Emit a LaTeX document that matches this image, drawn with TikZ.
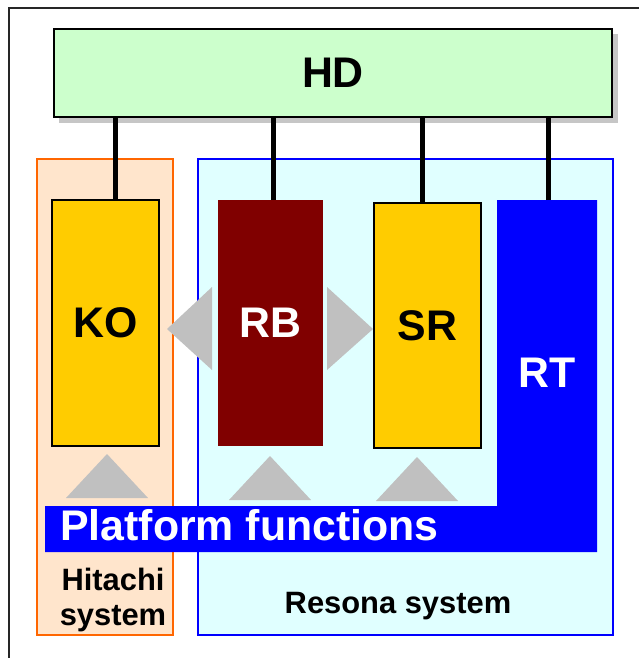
\documentclass[tikz,border=0pt]{standalone}
\usepackage{fontspec}
\setmainfont{Liberation Sans}
\usepackage{tikz}
\usetikzlibrary{calc}

\definecolor{hdgreen}{HTML}{CCFFCC}
\definecolor{hitpeach}{HTML}{FFE5CC}
\definecolor{hitorange}{HTML}{FF6600}
\definecolor{rescyan}{HTML}{E0FFFF}
\definecolor{resblue}{HTML}{0000FF}
\definecolor{boxyellow}{HTML}{FFCC00}
\definecolor{rbmaroon}{HTML}{800000}
\definecolor{trigray}{HTML}{C0C0C0}

\begin{document}
\begin{tikzpicture}[x=1bp, y=-1bp,
    every node/.append style={inner sep=0pt, font=\bfseries\fontsize{43}{48}\selectfont},
    sysbox/.style={line width=1.8bp},
    compbox/.style={draw=black, line width=1.2bp, fill=boxyellow},
    wire/.style={line width=5bp},
    tri/.style={fill=trigray},
    small/.style={font=\bfseries\fontsize{31}{34}\selectfont}]
    \useasboundingbox (0,0) rectangle (639,658);
    \draw[line width=1.5bp, color=black!85] (9,658) -- (9,8) -- (639,8); % outer frame

    % the two systems
    \node[sysbox, draw=hitorange, fill=hitpeach, minimum width=136bp, minimum height=476bp] (hit) at (105,397) {};
    \node[sysbox, draw=resblue, fill=rescyan, minimum width=415bp, minimum height=476bp] (res) at (405.5,397) {};

    % HD with its shadow
    \fill[gray!45] (59,34) rectangle (618,123);
    \node[draw=black, line width=1.2bp, fill=hdgreen, minimum width=558bp, minimum height=88bp] (HD) at (333,73) {HD};

    % components
    \node[compbox, minimum width=107bp, minimum height=246bp] (KO) at (105.5,323) {KO};
    \node[fill=rbmaroon, text=white, minimum width=105bp, minimum height=246bp] (RB) at (270.5,323) {RB};
    \node[compbox, minimum width=107bp, minimum height=245bp] (SR) at (427.5,325.5) {SR};

    % RT and the platform bar
    \fill[resblue] (497,200) -- (597,200) -- (597,552) -- (45,552) -- (45,506) -- (497,506) -- cycle;
    \node[text=white] (RT) at (547.5,373) {RT};
    \coordinate (RTtop) at (548,200);
    \node[text=white, anchor=base west] (pf) at (60,540) {Platform functions};

    % wires to HD
    \foreach \n/\s in {KO/9.5, RB/2.5, SR/-5.5} % edit here for the wire offsets
    \draw[wire] ([xshift=\s bp]\n.north) -- ([xshift=\s bp]\n.north |- HD.south);
    \draw[wire] (RTtop) -- (RTtop |- HD.south);

    % gray triangles
    \foreach \x/\y in {107/454, 270/456, 417/457}
    \fill[tri] (\x,\y) -- ++(41,44) -- ++(-82,0) -- cycle;
    \fill[tri] (167,329) -- (212,287) -- (212,370) -- cycle;
    \fill[tri] (373,329) -- (327,287) -- (327,370) -- cycle;

    % labels
    \node[small, anchor=base] (hitA) at (113,590) {Hitachi};
    \node[small, anchor=base] (hitB) at (113,625) {system};
    \node[small, anchor=base] (reslbl) at (398,613) {Resona system};
\end{tikzpicture}
\end{document}
